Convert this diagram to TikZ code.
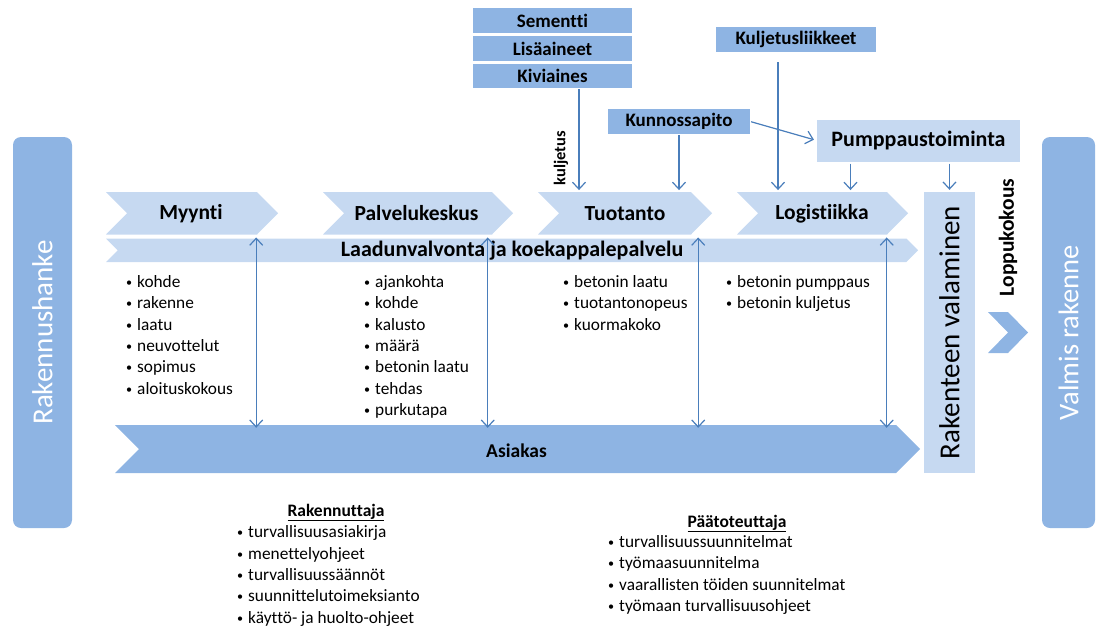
\documentclass[tikz,border=0pt]{standalone}
\usepackage{fontspec}
\setmainfont{Carlito}[Ligatures={NoCommon}]
\usetikzlibrary{arrows.meta}
\definecolor{midblue}{RGB}{142,180,227}
\definecolor{paleblue}{RGB}{198,217,241}
\definecolor{linkblue}{RGB}{74,126,187}
% chevron: colour, left x, right x, top y, bottom y, point depth
\newcommand{\chevpath}[6]{\fill[#1] (#2,#4) -- ({#3-#6},#4) -- (#3,{(#4+#5)/2}) -- ({#3-#6},#5) -- (#2,#5) -- ({#2+#6},{(#4+#5)/2}) -- cycle;}
\newcommand{\itm}{\raisebox{1pt}{\scalebox{0.7}{\char"2022}}\hspace{5pt}}
\begin{document}
\begin{tikzpicture}[x=1pt,y=-1pt,
  lbl/.style={inner sep=0pt, font=\fontsize{21.5}{26}\selectfont\bfseries},
  topbox/.style={fill=midblue, inner sep=0pt, font=\fontsize{19}{22}\selectfont\bfseries},
  items/.style={inner sep=0pt, align=left, anchor=north west, font=\fontsize{17.3}{21.4}\selectfont},
  ttl/.style={inner sep=0pt, anchor=base, font=\fontsize{17.5}{20}\selectfont\bfseries},
  arr/.style={draw=linkblue, line width=1.2pt, -{Straight Barb[length=7pt,width=13pt]}},
  darr/.style={draw=linkblue, line width=1.2pt, {Straight Barb[length=7pt,width=13pt]}-{Straight Barb[length=7pt,width=13pt]}},
]
\useasboundingbox (0,0) rectangle (1096,627);

% start and end panels
\node[fill=midblue, rounded corners=8pt, minimum width=59pt, minimum height=391pt, inner sep=0pt] (start) at (42.5,332.5) {};
\node[rotate=90, text=white, font=\fontsize{29}{34}\selectfont] (startlbl) at (start) {Rakennushanke};
\node[fill=midblue, rounded corners=8pt, minimum width=53pt, minimum height=391pt, inner sep=0pt] (finish) at (1068.5,332.5) {};
\node[rotate=90, text=white, font=\fontsize{28.5}{34}\selectfont] (finishlbl) at (finish) {Valmis rakenne};

% process chevrons
\chevpath{paleblue}{106}{278}{192}{234.5}{21}
\chevpath{paleblue}{323}{513}{192}{234.5}{21}
\chevpath{paleblue}{538}{712}{192}{234.5}{21}
\chevpath{paleblue}{737}{908}{192}{234.5}{21}
\node[lbl, minimum width=172pt, minimum height=42.5pt] (myynti) at (191,213.5) {Myynti};
\node[lbl, minimum width=190pt, minimum height=42.5pt] (palv) at (416.5,213.5) {Palvelukeskus};
\node[lbl, minimum width=174pt, minimum height=42.5pt] (tuot) at (625,213.5) {Tuotanto};
\node[lbl, minimum width=171pt, minimum height=42.5pt] (logi) at (822,213.5) {Logistiikka};

% quality bar
\chevpath{paleblue}{106}{918}{238.5}{262}{11.75}
\node[lbl, font=\fontsize{22}{26}\selectfont\bfseries] (laatu) at (512,251) {Laadunvalvonta ja koekappalepalvelu};

% customer bar
\chevpath{midblue}{115}{920}{425}{473}{24}
\node[inner sep=0pt, minimum width=805pt, minimum height=48pt] (asiakas) at (517.5,449) {};
\node[inner sep=0pt, font=\fontsize{19.5}{22}\selectfont\bfseries] (asiakaslbl) at (516.5,451) {Asiakas};

% casting
\node[fill=paleblue, minimum width=51pt, minimum height=281pt, inner sep=0pt] (rv) at (949.5,332.5) {};
\node[rotate=90, font=\fontsize{29}{34}\selectfont] (rvlbl) at (rv) {Rakenteen valaminen};
\node[rotate=90, inner sep=0pt, font=\fontsize{21.5}{24}\selectfont\bfseries] (loppu) at (1008,237.5) {Loppukokous};
\chevpath{midblue}{988}{1028}{312}{353}{20}

% supply boxes
\node[topbox, minimum width=159pt, minimum height=25pt] (sem) at (552.5,20.5) {Sementti};
\node[topbox, minimum width=159pt, minimum height=25pt] (lisa) at (552.5,48.5) {Lisäaineet};
\node[topbox, minimum width=159pt, minimum height=24pt] (kivi) at (552.5,76) {Kiviaines};
\node[topbox, minimum width=160pt, minimum height=25pt] (kulj) at (796,39.5) {Kuljetusliikkeet};
\node[topbox, minimum width=142pt, minimum height=25pt] (kunn) at (679,121.5) {Kunnossapito};
\node[fill=paleblue, inner sep=0pt, minimum width=203pt, minimum height=42pt, font=\fontsize{22}{26}\selectfont\bfseries] (pump) at (918.5,140.5) {Pumppaustoiminta};
\node[rotate=90, inner sep=0pt, font=\fontsize{16.5}{20}\selectfont\bfseries] (kuljlbl) at (561,158) {kuljetus};

% bullet lists
\node[items] (l1) at (126,275) {\itm kohde\\ \itm rakenne\\ \itm laatu\\ \itm neuvottelut\\ \itm sopimus\\ \itm aloituskokous};
\node[items] (l2) at (364,275) {\itm ajankohta\\ \itm kohde\\ \itm kalusto\\ \itm määrä\\ \itm betonin laatu\\ \itm tehdas\\ \itm purkutapa};
\node[items] (l3) at (563,275) {\itm betonin laatu\\ \itm tuotantonopeus\\ \itm kuormakoko};
\node[items] (l4) at (726,275) {\itm betonin pumppaus\\ \itm betonin kuljetus};

\node[ttl] (rak) at (336,516) {\underline{Rakennuttaja}};
\node[items] (l5) at (237,525.5) {\itm turvallisuusasiakirja\\ \itm menettelyohjeet\\ \itm turvallisuussäännöt\\ \itm suunnittelutoimeksianto\\ \itm käyttö- ja huolto-ohjeet};
\node[ttl] (paa) at (737,527) {\underline{Päätoteuttaja}};
\node[items] (l6) at (608,535) {\itm turvallisuussuunnitelmat\\ \itm työmaasuunnitelma\\ \itm vaarallisten töiden suunnitelmat\\ \itm työmaan turvallisuusohjeet};

% inputs
\draw[arr, shorten <=1pt, shorten >=2pt] ([xshift=26.5pt]kivi.south) -- ([xshift=26.5pt]kivi.south |- tuot.north);
\draw[arr, shorten <=1pt, shorten >=2pt] (kunn.south) -- (kunn.south |- tuot.north);
\draw[arr, shorten <=1pt, shorten >=3pt] (kunn.east) -- (pump.west);
\draw[arr, shorten <=10pt, shorten >=2pt] ([xshift=-18pt]kulj.south) -- ([xshift=-18pt]kulj.south |- logi.north);
\draw[arr, shorten <=2pt, shorten >=2pt] ([xshift=-68pt]pump.south) -- ([xshift=-68pt]pump.south |- logi.north);
\draw[arr, shorten <=2pt, shorten >=2pt] (rv.north |- pump.south) -- (rv.north);

% links to the customer
\draw[darr, shorten <=2.5pt, shorten >=-3pt] ([xshift=-21pt]myynti.south east) -- ([xshift=-21pt]myynti.south east |- asiakas.north);
\draw[darr, shorten <=2.5pt, shorten >=-3pt] ([xshift=-24pt]palv.south east) -- ([xshift=-24pt]palv.south east |- asiakas.north);
\draw[darr, shorten <=2.5pt, shorten >=-3pt] ([xshift=-14pt]tuot.south east) -- ([xshift=-14pt]tuot.south east |- asiakas.north);
\draw[darr, shorten <=2.5pt, shorten >=-3pt] ([xshift=-21pt]logi.south east) -- ([xshift=-21pt]logi.south east |- asiakas.north);
\end{tikzpicture}
\end{document}
